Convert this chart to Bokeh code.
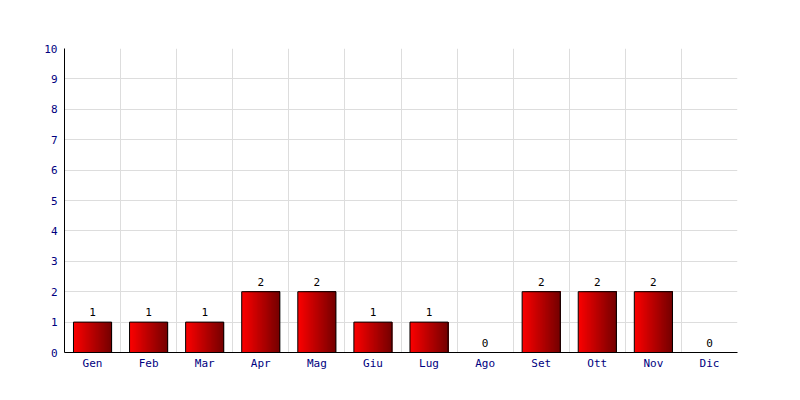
from bokeh.plotting import figure
from bokeh.models import FixedTicker, ColumnDataSource, Range1d
from bokeh.embed import file_html
from bokeh.resources import INLINE
from bokeh.core.properties import value

months = ["Gen", "Feb", "Mar", "Apr", "Mag", "Giu", "Lug", "Ago", "Set", "Ott", "Nov", "Dic"]
counts = [1, 1, 1, 2, 2, 1, 1, 0, 2, 2, 2, 0]
y_ticks = list(range(0, 11))

FONT = "DejaVu Sans Mono"
bar_w = 0.68
n_strips = 30

p = figure(width=784, height=384, output_backend="svg", toolbar_location=None,
           x_range=Range1d(0, 12), y_range=Range1d(0, 10),
           min_border_left=64, min_border_right=47, min_border_top=48, min_border_bottom=32)
p.outline_line_color = None
p.background_fill_color = "white"

# gradient bars as overlapping strips (each extends to bar's right edge, no seams)
L, R, B, T, C = [], [], [], [], []
for i, v in enumerate(counts):
    if v <= 0:
        continue
    x0 = i + 0.5 - bar_w / 2
    sw = bar_w / n_strips
    for k in range(n_strips):
        t = k / (n_strips - 1)
        r = int(round(250 - t * (250 - 118)))
        L.append(x0 + k * sw)
        R.append(x0 + bar_w)
        B.append(0)
        T.append(v)
        C.append("#%02x0000" % r)
p.quad(left=L, right=R, bottom=B, top=T, fill_color=C, line_color=None)

xs = [i + 0.5 for i in range(len(months))]
src = ColumnDataSource(dict(x=xs, y=counts, lab=[str(c) for c in counts]))
p.vbar(x="x", top="y", width=bar_w, source=src, fill_alpha=0, line_color="black", line_width=1)
p.text(x="x", y="y", text="lab", source=src, text_align="center", text_baseline="bottom",
       y_offset=-6, text_font=value(FONT), text_font_size="11px", text_color="black")

# axes
p.xaxis.ticker = FixedTicker(ticks=xs)
p.xaxis.major_label_overrides = {x: m for x, m in zip(xs, months)}
p.yaxis.ticker = FixedTicker(ticks=y_ticks)
for ax in (p.xaxis[0], p.yaxis[0]):
    ax.major_tick_line_color = None
    ax.minor_tick_line_color = None
    ax.major_tick_out = 0
    ax.major_tick_in = 0
    ax.axis_line_color = "black"
    ax.major_label_text_font = FONT
    ax.major_label_text_font_size = "11px"
    ax.major_label_text_color = "#000080"
p.xaxis.major_label_standoff = 4
p.yaxis.major_label_standoff = 7

p.xgrid.ticker = FixedTicker(ticks=list(range(0, 13)))
p.xgrid.grid_line_color = "#dddddd"
p.ygrid.grid_line_color = "#dddddd"
p.xgrid.level = "underlay"
p.ygrid.level = "underlay"

open("out.html", "w").write(file_html(p, INLINE))
